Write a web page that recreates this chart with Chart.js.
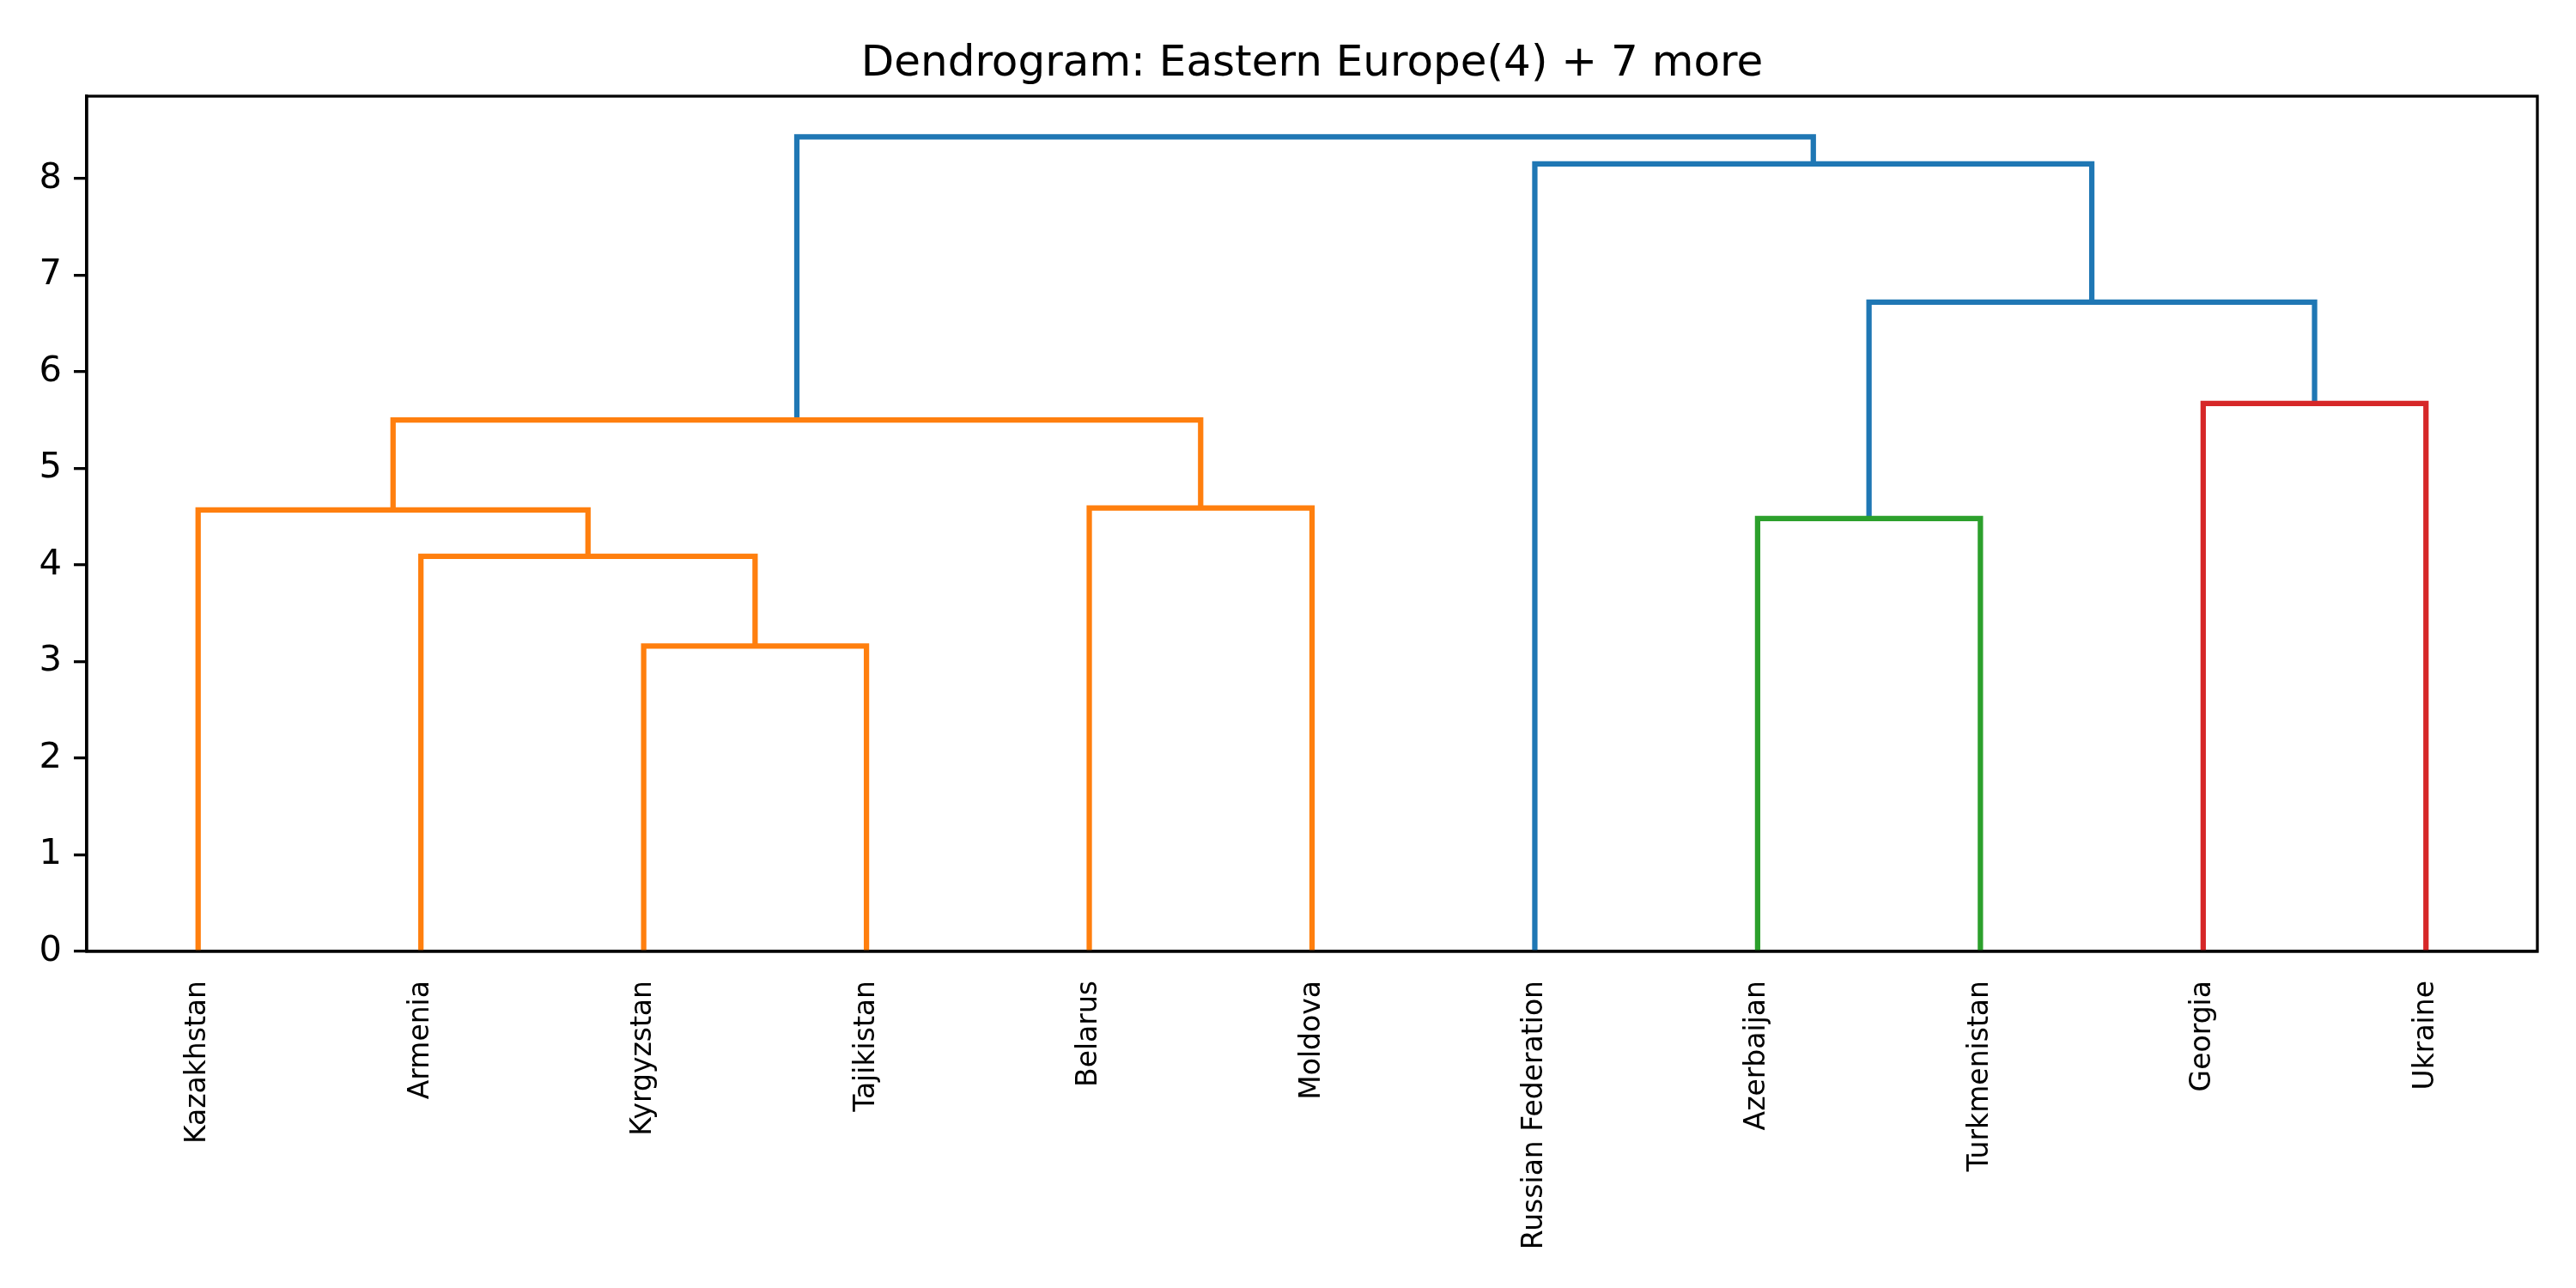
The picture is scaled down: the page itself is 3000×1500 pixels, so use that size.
<!DOCTYPE html>
<html>
<head>
<meta charset="utf-8">
<script src="https://cdn.jsdelivr.net/npm/chart.js@4"></script>
<style>
  html, body { margin: 0; padding: 0; background: #fff; }
  #wrap { width: 3000px; height: 1500px; }
</style>
</head>
<body>
<div id="wrap"><canvas id="dendro" width="3000" height="1500"></canvas></div>
<script>
// leaves in dendrogram order (left to right)
const leafNames = [
  "Kazakhstan", "Armenia", "Kyrgyzstan", "Tajikistan", "Belarus", "Moldova",
  "Russian Federation", "Azerbaijan", "Turkmenistan", "Georgia", "Ukraine",
];

// merges, scipy style: ids 0..10 are leaves, merge k gets id 11 + k
const mergeLeft = [2, 1, 7, 0, 4, 14, 9, 13, 6, 16];
const mergeRight = [3, 11, 8, 12, 5, 15, 10, 17, 18, 19];
const mergeHeight = [3.16, 4.09, 4.48, 4.57, 4.59, 5.5, 5.67, 6.72, 8.15, 8.43];
const mergeColor = [
  "#ff7f0e", "#ff7f0e", "#2ca02c", "#ff7f0e", "#ff7f0e",
  "#ff7f0e", "#d62728", "#1f77b4", "#1f77b4", "#1f77b4",
];

const yTicks = [0, 1, 2, 3, 4, 5, 6, 7, 8];
const FONT = "'DejaVu Sans', sans-serif";

// leaf positions like scipy: 5, 15, 25, ...
const pos = leafNames.map((_, i) => 5 + 10 * i);
const height = leafNames.map(() => 0);
const leafPos = pos.slice();

const datasets = mergeLeft.map((a, k) => {
  const b = mergeRight[k];
  const h = mergeHeight[k];
  const pts = [
    { x: pos[a], y: height[a] },
    { x: pos[a], y: h },
    { x: pos[b], y: h },
    { x: pos[b], y: height[b] },
  ];
  pos.push((pos[a] + pos[b]) / 2);
  height.push(h);
  return {
    data: pts,
    showLine: true,
    borderColor: mergeColor[k],
    backgroundColor: mergeColor[k],
    borderWidth: 6.25,
    borderJoinStyle: "miter",
    borderCapStyle: "butt",
    pointRadius: 0,
    tension: 0,
  };
});

const xMax = leafNames.length * 10;
const yMax = Math.max(...mergeHeight) * 1.05;

// box around the axes (top and right spines)
const frame = {
  id: "frame",
  afterDraw(chart) {
    const { ctx, chartArea: a } = chart;
    ctx.save();
    ctx.strokeStyle = "#000";
    ctx.lineWidth = 3.3;
    ctx.strokeRect(a.left, a.top, a.right - a.left, a.bottom - a.top);
    ctx.restore();
  },
};

new Chart(document.getElementById("dendro").getContext("2d"), {
  type: "scatter",
  data: { datasets },
  options: {
    responsive: false,
    animation: false,
    layout: { padding: { left: 0, right: 45, top: 0, bottom: 0 } },
    plugins: {
      legend: { display: false },
      tooltip: { enabled: false },
      title: {
        display: true,
        fullSize: false,
        text: "Dendrogram: Eastern Europe(4) + 7 more",
        color: "#000",
        font: { family: FONT, size: 50, weight: "normal", lineHeight: 1.2 },
        padding: { top: 45, bottom: 7 },
      },
    },
    scales: {
      x: {
        type: "linear",
        min: 0,
        max: xMax,
        afterBuildTicks: (s) => {
          s.ticks = leafPos.map((v) => ({ value: v }));
        },
        afterFit: (s) => {
          s.height = 392;
        },
        ticks: {
          autoSkip: false,
          minRotation: 90,
          maxRotation: 90,
          padding: 34,
          color: "#000",
          font: { family: FONT, size: 33 },
          callback: (v, i) => leafNames[i],
        },
        grid: { display: false, drawTicks: false },
        border: { display: true, color: "#000", width: 3.3 },
      },
      y: {
        min: 0,
        max: yMax,
        afterBuildTicks: (s) => {
          s.ticks = yTicks.map((v) => ({ value: v }));
        },
        afterFit: (s) => {
          s.width = 101;
        },
        ticks: {
          padding: 14,
          color: "#000",
          font: { family: FONT, size: 41.7 },
        },
        grid: {
          drawOnChartArea: false,
          drawTicks: true,
          tickLength: 15,
          color: "#000",
          lineWidth: 3.3,
        },
        border: { display: true, color: "#000", width: 3.3 },
      },
    },
  },
  plugins: [frame],
});
</script>
</body>
</html>
